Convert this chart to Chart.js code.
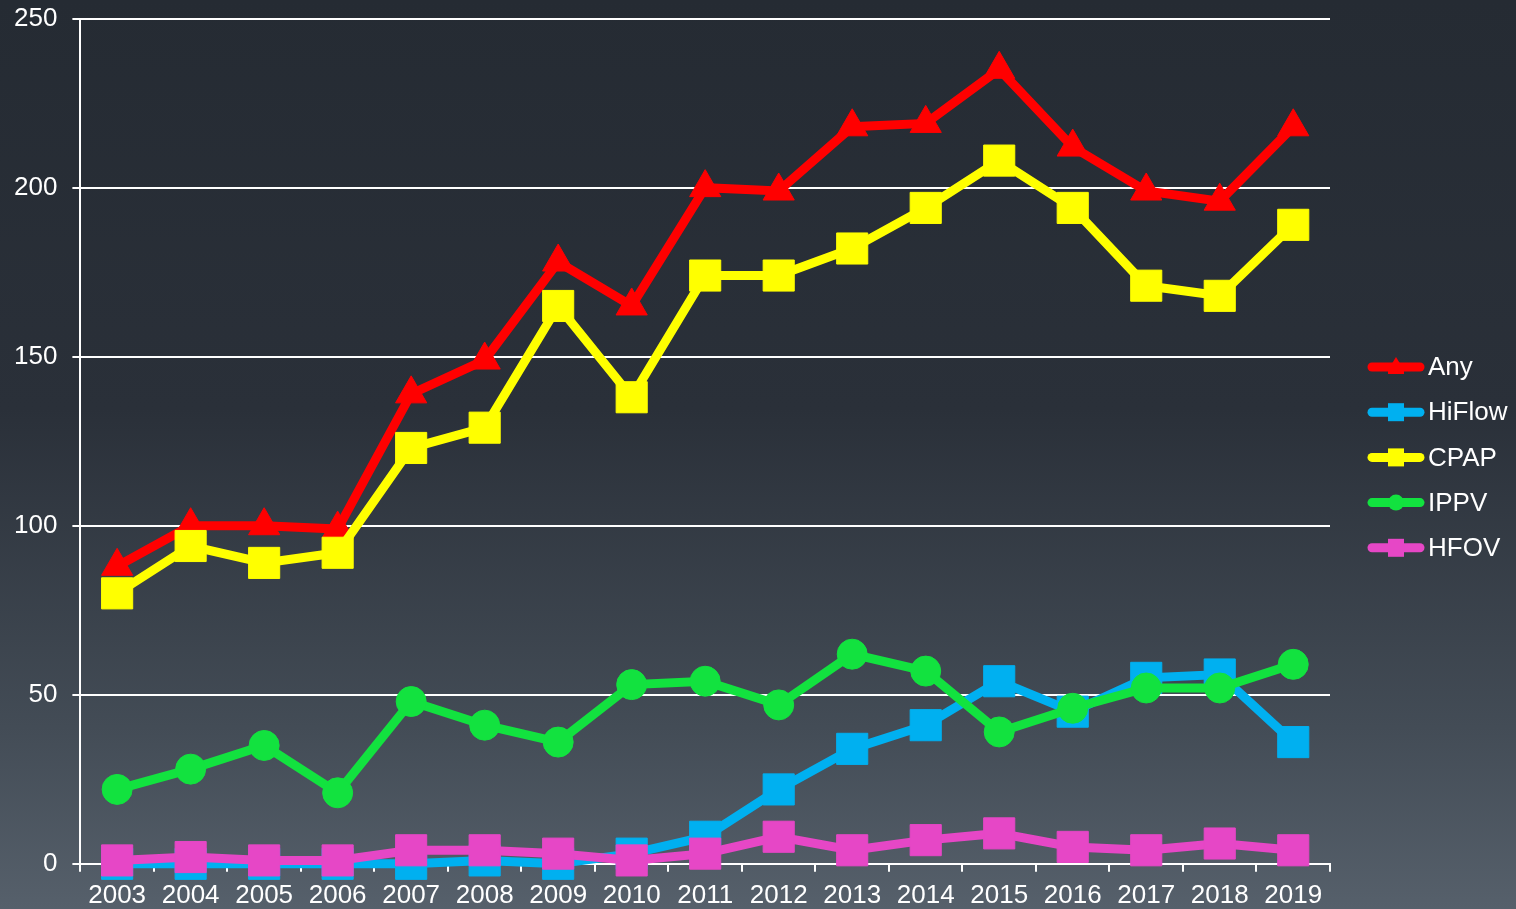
<!DOCTYPE html>
<html>
<head>
<meta charset="utf-8">
<script src="https://cdn.jsdelivr.net/npm/chart.js@4.4.1/dist/chart.umd.min.js"></script>
<style>
    html, body { margin: 0; padding: 0; }
    body {
        width: 1516px; height: 909px; overflow: hidden;
        background: linear-gradient(to bottom, #252b33 0%, #2a3039 45%, #434c56 80%, #56606b 100%);
    }
    #wrap { width: 1516px; height: 909px; overflow: hidden; }
    #chart { display: block; margin-top: -12px; }
</style>
</head>
<body>
<div id="wrap"><canvas id="chart" width="1516" height="921"></canvas></div>
<script>
const years = ['2003', '2004', '2005', '2006', '2007', '2008', '2009', '2010', '2011', '2012', '2013', '2014', '2015', '2016', '2017', '2018', '2019'];
const anyValues    = [88, 100, 100, 99, 139, 149, 178, 165, 200, 199, 218, 219, 235, 212, 199, 196, 218];
const hiflowValues = [0, 0, 0, 0, 0, 1, 0, 3, 8, 22, 34, 41, 54, 45, 55, 56, 36];
const cpapValues   = [80, 94, 89, 92, 123, 129, 165, 138, 174, 174, 182, 194, 208, 194, 171, 168, 189];
const ippvValues   = [22, 28, 35, 21, 48, 41, 36, 53, 54, 47, 62, 57, 39, 46, 52, 52, 59];
const hfovValues   = [1, 2, 1, 1, 4, 4, 3, 1, 3, 8, 4, 7, 9, 5, 4, 6, 4];
const yTicks = [0, 50, 100, 150, 200, 250];

const series = [
    { label: 'Any',    data: anyValues,    color: '#ff0000', style: 'triangle', radius: 18 },
    { label: 'HiFlow', data: hiflowValues, color: '#00b0f0', style: 'rect',     radius: 22 },
    { label: 'CPAP',   data: cpapValues,   color: '#ffff00', style: 'rect',     radius: 22 },
    { label: 'IPPV',   data: ippvValues,   color: '#12e23f', style: 'circle',   radius: 15 },
    { label: 'HFOV',   data: hfovValues,   color: '#e647c6', style: 'rect',     radius: 22 }
];

const FONT = 'Arial, "Liberation Sans", sans-serif';

// legend on the right: line with the marker in the middle, then the name
// (canvas is shifted up 12px, so y is measured from 12px above the page top)
const sideLegend = {
    id: 'sideLegend',
    afterDraw(chart) {
        const g = chart.ctx;
        g.save();
        series.forEach((s, i) => {
            const y = 12 + 367 + i * 45.2;
            const x0 = 1368, x1 = 1424, xm = (x0 + x1) / 2;
            g.strokeStyle = s.color;
            g.fillStyle = s.color;
            g.lineWidth = 9;
            g.lineCap = 'round';
            g.beginPath(); g.moveTo(x0 + 4, y); g.lineTo(x1 - 4, y); g.stroke();
            if (s.style === 'circle') {
                g.beginPath(); g.arc(xm, y, 8, 0, Math.PI * 2); g.fill();
            } else if (s.style === 'triangle') {
                g.beginPath(); g.moveTo(xm, y - 10); g.lineTo(xm + 8, y + 3); g.lineTo(xm - 8, y + 3); g.closePath(); g.fill();
                g.fillRect(xm - 8, y - 2, 16, 9);
            } else {
                g.fillRect(xm - 8, y - 9, 16, 18);
            }
            g.fillStyle = '#ffffff';
            g.font = '26px ' + FONT;
            g.textBaseline = 'middle';
            g.textAlign = 'left';
            g.fillText(s.label, 1428, y + 1);
        });
        g.restore();
    }
};

const ctx = document.getElementById('chart').getContext('2d');
new Chart(ctx, {
    type: 'line',
    data: {
        labels: years,
        datasets: series.map((s, i) => ({
            label: s.label,
            data: s.data,
            order: series.length - i,
            clip: false,
            borderColor: s.color,
            backgroundColor: s.color,
            borderWidth: 9,
            pointStyle: s.style,
            pointRadius: s.radius,
            pointBorderWidth: 1,
            pointBorderColor: s.color,
            pointBackgroundColor: s.color,
            tension: 0
        }))
    },
    options: {
        responsive: false,
        animation: false,
        layout: { padding: { top: 0, right: 186, left: -1, bottom: -10 } },
        plugins: {
            tooltip: { enabled: false },
            legend: { display: false }
        },
        scales: {
            x: {
                offset: true,
                grid: {
                    drawOnChartArea: false,
                    drawTicks: true,
                    tickLength: 8,
                    color: '#ffffff',
                    lineWidth: 2,
                    offset: true
                },
                border: { color: '#ffffff', width: 2 },
                ticks: {
                    color: '#ffffff',
                    font: { family: FONT, size: 26 },
                    padding: 8,
                    maxRotation: 0,
                    autoSkip: false
                }
            },
            y: {
                min: 0,
                max: 250,
                afterBuildTicks: axis => { axis.ticks = yTicks.map(v => ({ value: v })); },
                grid: {
                    color: '#ffffff',
                    lineWidth: 2,
                    tickLength: 8
                },
                border: { color: '#ffffff', width: 2 },
                ticks: {
                    color: '#ffffff',
                    font: { family: FONT, size: 26 },
                    padding: 15
                }
            }
        }
    },
    plugins: [sideLegend]
});
</script>
</body>
</html>
